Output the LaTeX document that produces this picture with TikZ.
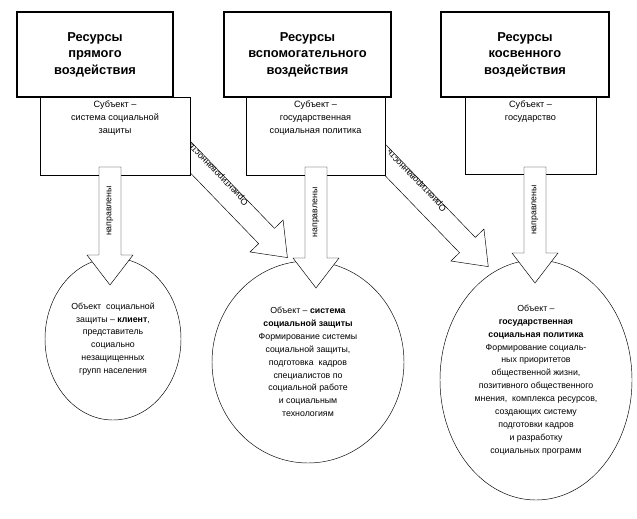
\documentclass[tikz,border=0pt]{standalone}
\usepackage{fontspec}
\setmainfont{Liberation Sans}
\usetikzlibrary{shapes.geometric}

\tikzset{
  head/.style={draw, line width=1.5pt, font=\bfseries\fontsize{11}{14}\selectfont, align=center},
  subj/.style={draw, fill=white, font=\fontsize{7.8}{11}\selectfont, align=center, anchor=north},
  obj/.style={draw, ellipse, font=\fontsize{7.5}{11}\selectfont, align=center, inner sep=0pt},
  lbl/.style={font=\fontsize{7.5}{9}\selectfont},
  pics/barrow/.style={code={
    \draw[fill=white] (0,-11) -- ({#1-30},-11) -- ({#1-30},-23) -- (#1,0)
      -- ({#1-30},23) -- ({#1-30},11) -- (0,11) -- cycle;
    \coordinate (-mid) at ({(#1-30)/2},0);
  }}
}

\begin{document}
\begin{tikzpicture}[x=0.03cm, y=-0.03cm]
    \useasboundingbox (0,0) rectangle (637,518);

    % arrows "Ориентированность"
    \pic[rotate=-46] (d1) at (170,136) {barrow=169};
    \pic[rotate=-46] (d2) at (366,140) {barrow=176};
    \node[lbl, rotate=134] (u1) at (d1-mid) [xshift=0.25cm, yshift=-0.25cm] {Ориентированность};
    \node[lbl, rotate=134] (u2) at (d2-mid) [xshift=0.25cm, yshift=-0.25cm] {Ориентированность};

    % subjects
    \node[subj, minimum width=150*0.03cm, minimum height=70*0.03cm, text depth=38*0.03cm] (s1) at (115,97) {Субъект --\\система социальной\\защиты};
    \node[subj, minimum width=139*0.03cm, minimum height=70*0.03cm, text depth=38*0.03cm] (s2) at (315.5,97) {Субъект --\\государственная\\социальная политика};
    \node[subj, minimum width=131*0.03cm, minimum height=70*0.03cm, text depth=50*0.03cm] (s3) at (530.5,97) {Субъект --\\государство};

    % resources
    \node[head, fill=white, minimum width=156*0.03cm, minimum height=85*0.03cm] (r1) at (95,54.5) {Ресурсы\\прямого\\воздействия};
    \node[head, fill=white, minimum width=167*0.03cm, minimum height=85*0.03cm] (r2) at (307.5,54.5) {Ресурсы\\вспомогательного\\воздействия};
    \node[head, fill=white, minimum width=168*0.03cm, minimum height=85*0.03cm] (r3) at (525,54.5) {Ресурсы\\косвенного\\воздействия};

    % objects
    \node[obj, minimum width=136*0.03cm, minimum height=162*0.03cm] (o1) at (113,339)
      {Объект\ \ социальной\\защиты -- \textbf{клиент},\\представитель\\социально\\незащищенных\\групп населения};
    \node[obj, minimum width=192*0.03cm, minimum height=202*0.03cm] (o2) at (308,362)
      {Объект -- \textbf{система}\\\textbf{социальной защиты}\\Формирование системы\\социальной защиты,\\подготовка\ \ кадров\\специалистов по\\социальной работе\\и социальным\\технологиям};
    \node[obj, minimum width=192*0.03cm, minimum height=240*0.03cm] (o3) at (536,380)
      {Объект --\\\textbf{государственная}\\\textbf{социальная политика}\\Формирование социаль-\\ных приоритетов\\общественной жизни,\\позитивного общественного\\мнения,\ \ комплекса ресурсов,\\создающих систему\\подготовки кадров\\и разработку\\социальных программ};

    % arrows "направлены"
    \pic[rotate=-90] (a1) at (110,167) {barrow=118};
    \pic[rotate=-90] (a2) at (316,167) {barrow=121};
    \pic[rotate=-90] (a3) at (535,167) {barrow=116};
    \node[lbl, rotate=90] (t1) at (a1-mid) {направлены};
    \node[lbl, rotate=90] (t2) at (a2-mid) {направлены};
    \node[lbl, rotate=90] (t3) at (a3-mid) {направлены};
\end{tikzpicture}
\end{document}
